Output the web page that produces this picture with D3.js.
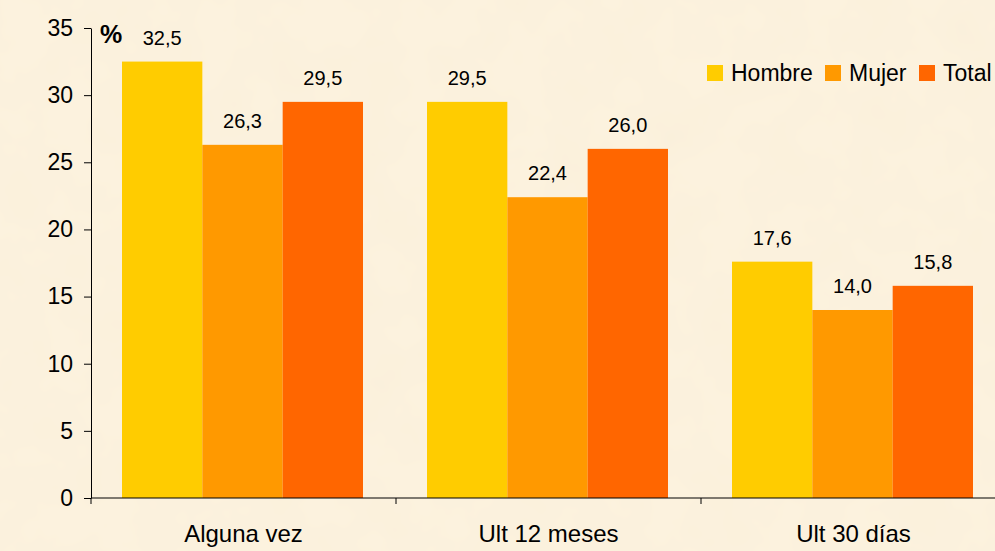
<!DOCTYPE html>
<html>
<head>
<meta charset="utf-8">
<script src="https://cdn.jsdelivr.net/npm/d3@7"></script>
<style>
  body { margin: 0; background: #fbf1dc; }
  svg { display: block; font-family: "Liberation Sans", Arial, sans-serif; }
  .axis path, .axis line { stroke: #000; }
  .axis text { font-size: 23px; fill: #000; }
</style>
</head>
<body>
<div id="vis"></div>
<script>
// data
var categories = ['Alguna vez', 'Ult 12 meses', 'Ult 30 días'];
var series = ['Hombre', 'Mujer', 'Total'];
var hombre = [32.5, 29.5, 17.6];
var mujer = [26.3, 22.4, 14.0];
var total = [29.5, 26.0, 15.8];
var colors = ['#ffcc00', '#ff9900', '#ff6600'];
var yTicks = [0, 5, 10, 15, 20, 25, 30, 35];

var width = 995, height = 551;
var margin = {left: 91, top: 28, bottom: 53};
var drawHeight = height - margin.top - margin.bottom;
var bandW = 305;

var svg = d3.select('#vis').append('svg')
            .attr('width', width)
            .attr('height', height);

// paper-like background
var defs = svg.append('defs');
var f = defs.append('filter').attr('id', 'paper')
            .attr('x', 0).attr('y', 0).attr('width', '100%').attr('height', '100%');
f.append('feTurbulence')
 .attr('type', 'fractalNoise')
 .attr('baseFrequency', 0.02)
 .attr('numOctaves', 3)
 .attr('seed', 4)
 .attr('result', 'noise');
f.append('feColorMatrix')
 .attr('in', 'noise')
 .attr('type', 'matrix')
 .attr('values', '0 0 0 0 0.87  0 0 0 0 0.78  0 0 0 0 0.6  0 0 0 0.22 -0.06');

svg.append('rect')
   .attr('width', width).attr('height', height)
   .attr('fill', '#fcf2de');
svg.append('rect')
   .attr('width', width).attr('height', height)
   .attr('filter', 'url(#paper)');

var xScale = d3.scaleBand()
               .domain(categories)
               .range([margin.left, margin.left + bandW * categories.length]);

var xSub = d3.scaleBand()
             .domain(series)
             .range([31, 272]);

var yScale = d3.scaleLinear()
               .domain([0, 35])
               .range([margin.top + drawHeight, margin.top]);

var colorScale = d3.scaleOrdinal().domain(series).range(colors);

var rows = [];
categories.forEach((c, i) => {
    rows.push({cat: c, s: 'Hombre', v: hombre[i]});
    rows.push({cat: c, s: 'Mujer', v: mujer[i]});
    rows.push({cat: c, s: 'Total', v: total[i]});
});

var fmt = (v) => d3.format('.1f')(v).replace('.', ',');

// bars
svg.selectAll('rect.bar')
   .data(rows)
   .enter()
   .append('rect')
   .attr('class', 'bar')
   .attr('x', (d) => xScale(d.cat) + xSub(d.s))
   .attr('width', xSub.bandwidth())
   .attr('y', (d) => yScale(d.v))
   .attr('height', (d) => yScale(0) - yScale(d.v))
   .attr('fill', (d) => colorScale(d.s));

// value labels
svg.selectAll('text.val')
   .data(rows)
   .enter()
   .append('text')
   .attr('class', 'val')
   .attr('x', (d) => xScale(d.cat) + xSub(d.s) + xSub.bandwidth() / 2)
   .attr('y', (d) => yScale(d.v) - 17)
   .attr('text-anchor', 'middle')
   .style('font-size', '20px')
   .text((d) => fmt(d.v));

// y axis
var yAxis = d3.axisLeft(yScale)
              .tickValues(yTicks)
              .tickSize(7)
              .tickSizeOuter(0)
              .tickPadding(11);
svg.append('g')
   .attr('class', 'axis')
   .attr('transform', `translate(${margin.left},0)`)
   .call(yAxis);

// x axis: line, ticks at band edges, labels at centers
var y0 = yScale(0);
var xg = svg.append('g').attr('class', 'axis');
xg.append('line')
  .attr('x1', margin.left).attr('x2', width)
  .attr('y1', y0).attr('y2', y0);
xg.selectAll('line.tk')
  .data(categories)
  .enter()
  .append('line')
  .attr('class', 'tk')
  .attr('x1', (d) => xScale(d)).attr('x2', (d) => xScale(d))
  .attr('y1', y0).attr('y2', y0 + 6);
xg.selectAll('text.cat')
  .data(categories)
  .enter()
  .append('text')
  .attr('class', 'cat')
  .attr('x', (d) => xScale(d) + xScale.bandwidth() / 2)
  .attr('y', y0 + 44)
  .attr('text-anchor', 'middle')
  .style('font-size', '24px')
  .text((d) => d);

// % label
svg.append('text')
   .attr('x', 100).attr('y', 43)
   .style('font-size', '25px')
   .style('font-weight', 'bold')
   .text('%');

// legend
var legend = svg.append('g').attr('transform', 'translate(707,65)');
var legX = [0, 118, 212];
var items = legend.selectAll('g')
                  .data(series)
                  .enter()
                  .append('g')
                  .attr('transform', (d, i) => `translate(${legX[i]},0)`);
items.append('rect')
     .attr('width', 16).attr('height', 16)
     .attr('fill', (d) => colorScale(d));
items.append('text')
     .attr('x', 24).attr('y', 16)
     .style('font-size', '23px')
     .text((d) => d);
</script>
</body>
</html>
